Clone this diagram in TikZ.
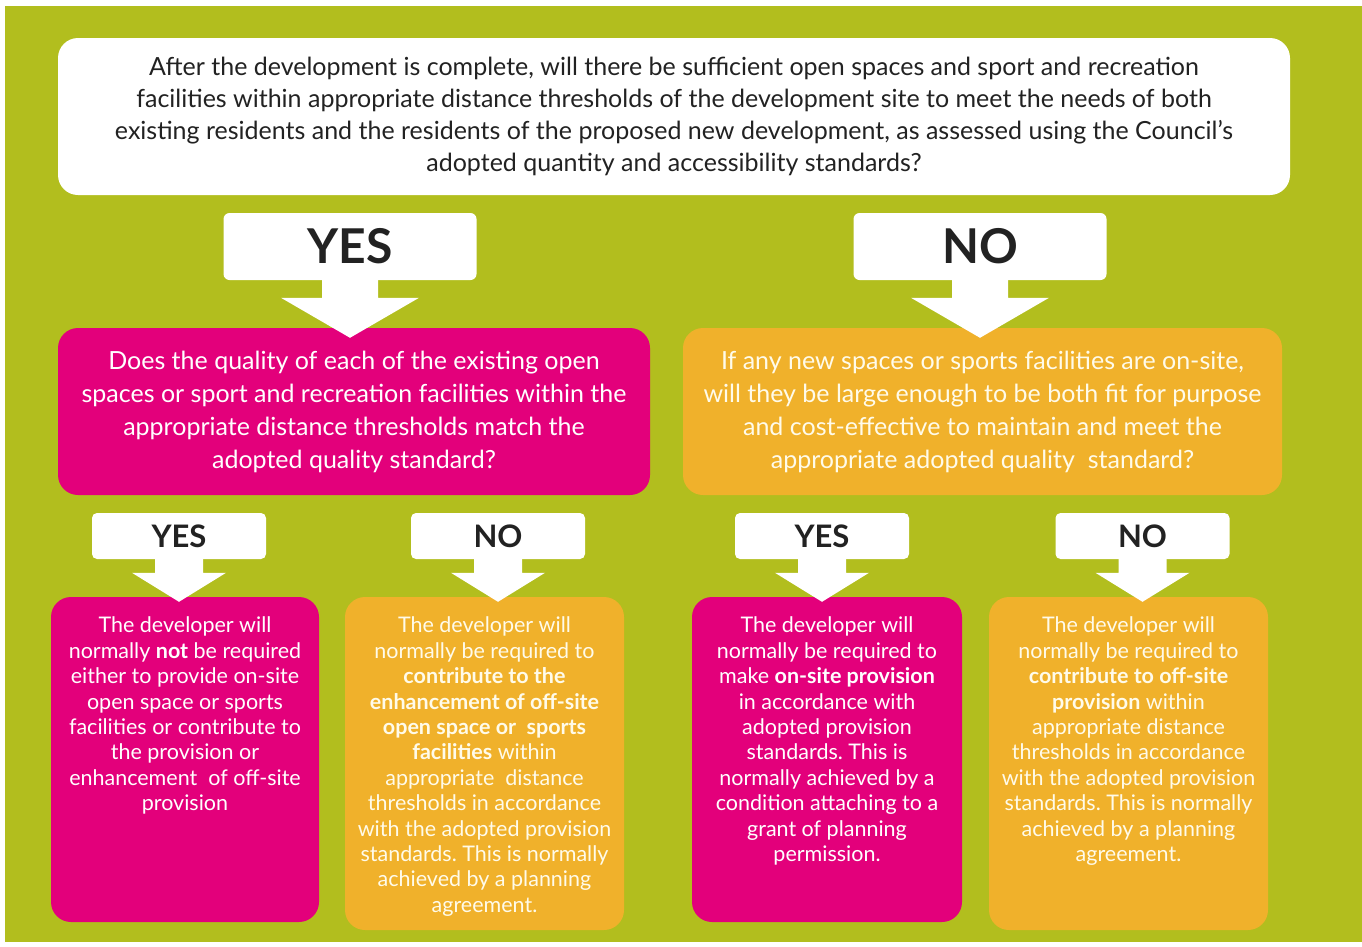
\documentclass[tikz,border=0pt]{standalone}
\usepackage{fontspec}
\setmainfont{Lato}
\frenchspacing
\usetikzlibrary{positioning, calc}
\definecolor{bgGreen}{HTML}{B2BE1E}
\definecolor{qPink}{HTML}{E3007B}
\definecolor{qOrange}{HTML}{F0B12B}
\definecolor{qText}{HTML}{222222}
\definecolor{qCream}{HTML}{FFFBEA}

% white block arrow: from, to, stem half, head half, head length, overlap
\newcommand{\flowarrow}[6]{%
  \fill[white] ($(#1.south)+(-#3,-1)$) -- ($(#1.south |- #2.north)+(-#3,#6-#5)$)
    -- ($(#1.south |- #2.north)+(-#4,#6-#5)$) -- ($(#1.south |- #2.north)+(0,#6)$)
    -- ($(#1.south |- #2.north)+(#4,#6-#5)$) -- ($(#1.south |- #2.north)+(#3,#6-#5)$)
    -- ($(#1.south)+(#3,-1)$) -- cycle;}

\begin{document}
\begin{tikzpicture}[x=1pt, y=-1pt,
    qbox/.style={rounded corners=20pt, inner sep=0pt, align=center},
    qfont/.style={font=\fontsize{25}{32}\selectfont},
    bigtag/.style={fill=white, rounded corners=6pt, minimum width=253, minimum height=67,
      inner sep=0pt, text=qText, font=\fontsize{48}{48}\selectfont\bfseries},
    smalltag/.style={fill=white, rounded corners=5pt, minimum width=174, minimum height=46,
      inner sep=0pt, text=qText, font=\fontsize{31}{31}\selectfont\bfseries},
    ansbox/.style={rounded corners=20pt, inner sep=0pt},
    anstext/.style={anchor=north, inner sep=0pt, align=center, text=white,
      font=\fontsize{21.5}{25.4}\selectfont}]
  \useasboundingbox (0,0) rectangle (1362,946);
  \fill[bgGreen] (5,6) rectangle (1362,942);

  % main question
  \node[qbox, qfont, fill=white, text=qText, minimum width=1232, minimum height=157] (main) at (674,116.5)
    {After the development is complete, will there be sufficient open spaces and sport and recreation\\
     facilities within appropriate distance thresholds of the development site to meet the needs of both\\
     existing residents and the residents of the proposed new development, as assessed using the Council’s\\
     adopted quantity and accessibility standards?};

  \node[bigtag] (yes) at (350,246.5) {YES};
  \node[bigtag] (no) at (980,246.5) {NO};

  % second questions
  \node[qbox, font=\fontsize{25}{33}\selectfont, fill=qPink, text=white, minimum width=592, minimum height=167] (pq) at (354,411.5)
    {Does the quality of each of the existing open\\
     spaces or sport and recreation facilities within the\\
     appropriate distance thresholds match the\\
     adopted quality standard?};
  \node[qbox, font=\fontsize{25}{33}\selectfont, fill=qOrange, text=qCream, minimum width=599, minimum height=167] (oq) at (982.5,411.5)
    {If any new spaces or sports facilities are on-site,\\
     will they be large enough to be both fit for purpose\\
     and cost-effective to maintain and meet the\\
     appropriate adopted quality\ \ standard?};

  \foreach \n/\lbl/\x in {ya/YES/179, na/NO/498, yb/YES/822, nb/NO/1142.5}
    \node[smalltag] (\n) at (\x,536) {\lbl};

  % outcomes
  \node[ansbox, fill=qPink, minimum width=268, minimum height=325] (pa) at (185,759.5) {};
  \node[ansbox, fill=qOrange, minimum width=279, minimum height=333] (oa) at (484.5,763.5) {};
  \node[ansbox, fill=qPink, minimum width=270, minimum height=325] (pb) at (827,759.5) {};
  \node[ansbox, fill=qOrange, minimum width=279, minimum height=333] (ob) at (1128.5,763.5) {};

  \node[anstext] (pat) at ([yshift=-20pt]pa.north)
    {The developer will\\ normally \textbf{not} be required\\ either to provide on-site\\
     open space or sports\\ facilities or contribute to\\ the provision or\\
     enhancement\ \ of off-site\\ provision};
  \node[anstext, text=qCream] (oat) at ([yshift=-20pt]oa.north)
    {The developer will\\ normally be required to\\ \textbf{contribute to the}\\
     \textbf{enhancement of off-site}\\ \textbf{open space or\ \ sports}\\ \textbf{facilities} within\\
     appropriate\ \ distance\\ thresholds in accordance\\ with the adopted provision\\
     standards. This is normally\\ achieved by a planning\\ agreement.};
  \node[anstext] (pbt) at ([yshift=-20pt]pb.north)
    {The developer will\\ normally be required to\\ make \textbf{on-site provision}\\
     in accordance with\\ adopted provision\\ standards. This is\\ normally achieved by a\\
     condition attaching to a\\ grant of planning\\ permission.};
  \node[anstext, text=qCream] (obt) at ([yshift=-20pt]ob.north)
    {The developer will\\ normally be required to\\ \textbf{contribute to off-site}\\
     \textbf{provision} within\\ appropriate distance\\ thresholds in accordance\\
     with the adopted provision\\ standards. This is normally\\ achieved by a planning\\ agreement.};

  % arrows
  \foreach \a/\b in {yes/pq, no/oq}
    \flowarrow{\a}{\b}{28}{69}{40}{10};
  \foreach \a/\b in {ya/pa, na/oa, yb/pb, nb/ob}
    \flowarrow{\a}{\b}{24}{47}{29}{5};
\end{tikzpicture}
\end{document}
